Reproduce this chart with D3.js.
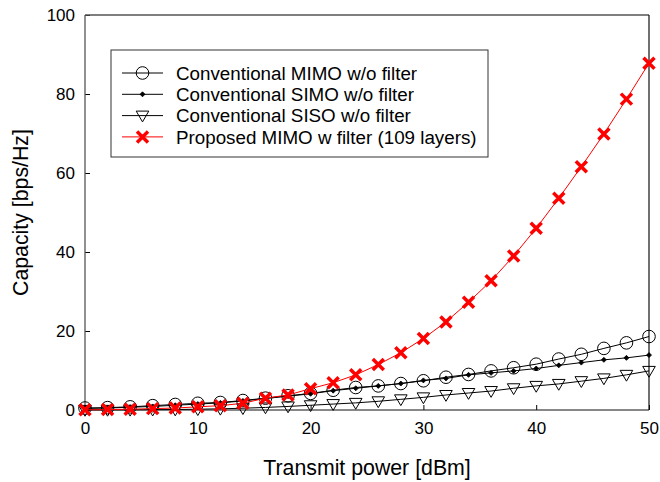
<!DOCTYPE html>
<html><head><meta charset="utf-8">
<script src="https://cdn.jsdelivr.net/npm/d3@7"></script>
<style>body{margin:0;background:#fff}svg{display:block}text{font-family:"Liberation Sans",Arial,sans-serif}</style>
</head><body><svg id="c" width="660" height="482"></svg>
<script>
const power = [0,2,4,6,8,10,12,14,16,18,20,22,24,26,28,30,32,34,36,38,40,42,44,46,48,50];
const mimo  = [0.5,0.6,0.8,1.1,1.4,1.7,1.9,2.4,3.0,3.6,4.2,5.0,5.7,6.1,6.7,7.4,8.3,9.0,9.9,10.7,11.6,12.9,14.1,15.6,17.0,18.6];
const simo  = [0.4,0.5,0.7,0.9,1.2,1.5,1.8,2.3,2.9,3.5,4.1,4.9,5.5,6.1,6.7,7.5,8.0,8.9,9.4,9.9,10.5,11.3,12.0,12.7,13.2,13.9];
const siso  = [0.02,0.03,0.05,0.08,0.12,0.2,0.3,0.45,0.65,0.9,1.2,1.5,1.8,2.2,2.7,3.2,3.8,4.3,4.8,5.5,6.1,6.6,7.3,8.0,8.9,9.9];
const prop  = [0.05,0.1,0.2,0.35,0.5,0.8,1.1,1.7,3.0,3.8,5.4,6.9,8.9,11.5,14.5,18.1,22.3,27.3,32.7,39.0,46.0,53.6,61.6,69.9,78.7,87.8];
const xTicks = [0,10,20,30,40,50];
const yTicks = [0,20,40,60,80,100];
const seriesNames = ["Conventional MIMO w/o filter","Conventional SIMO w/o filter","Conventional SISO w/o filter","Proposed MIMO w filter (109 layers)"];

const svg = d3.select("#c");
const L=85,R=649,T=15,B=410;
const x = d3.scaleLinear().domain([0,50]).range([L,R]);
const y = d3.scaleLinear().domain([0,100]).range([B,T]);

const gx = svg.append("g").attr("transform",`translate(0,${B})`)
  .call(d3.axisBottom(x).tickValues(xTicks).tickSizeInner(-5).tickSizeOuter(0).tickPadding(12));
const gy = svg.append("g").attr("transform",`translate(${L},0)`)
  .call(d3.axisLeft(y).tickValues(yTicks).tickSizeInner(-5).tickSizeOuter(0).tickPadding(10));
[gx,gy].forEach(g=>{g.select(".domain").remove();g.selectAll("text").attr("font-size",17).attr("fill","#000").style("font-family","Liberation Sans, Arial, sans-serif");g.selectAll("line").attr("stroke","#000");});
gx.selectAll("text").attr("dy","0.71em");
svg.append("line").attr("x1",L).attr("x2",L).attr("y1",T).attr("y2",B).attr("stroke","#555").attr("stroke-width",1.3);
svg.append("line").attr("x1",L).attr("x2",R).attr("y1",T).attr("y2",T).attr("stroke","#555").attr("stroke-width",1.3);
svg.append("line").attr("x1",R).attr("x2",R).attr("y1",T).attr("y2",B).attr("stroke","#111").attr("stroke-width",1.2);
svg.append("line").attr("x1",L).attr("x2",R).attr("y1",B).attr("y2",B).attr("stroke","#111").attr("stroke-width",1.2);

svg.append("text").attr("x",(L+R)/2).attr("y",475).attr("text-anchor","middle").attr("font-size",21.3).text("Transmit power [dBm]");
svg.append("text").attr("transform",`translate(28,${(T+B)/2}) rotate(-90)`).attr("text-anchor","middle").attr("font-size",21.3).text("Capacity [bps/Hz]");

function drawMarker(g,type,cx,cy){
  if(type==="circle") g.append("circle").attr("cx",cx).attr("cy",cy).attr("r",6.3).attr("fill","none").attr("stroke","#000").attr("stroke-width",1);
  else if(type==="dot") g.append("path").attr("d",`M${cx-2.5},${cy}L${cx},${cy-2.5}L${cx+2.5},${cy}L${cx},${cy+2.5}Z`).attr("fill","#000").attr("stroke","#000").attr("stroke-width",0.8);
  else if(type==="tri") g.append("path").attr("d",`M${cx-6.3},${cy-4.5}L${cx+6.3},${cy-4.5}L${cx},${cy+6.3}Z`).attr("fill","none").attr("stroke","#000").attr("stroke-width",1);
  else if(type==="x") g.append("path").attr("d",`M${cx-5.5},${cy-5.5}L${cx+5.5},${cy+5.5}M${cx-5.5},${cy+5.5}L${cx+5.5},${cy-5.5}`).attr("stroke","#f00").attr("stroke-width",3.5).attr("fill","none");
}

const series = [
  {name:seriesNames[0],vals:mimo,color:"#000",m:"circle"},
  {name:seriesNames[1],vals:simo,color:"#000",m:"dot"},
  {name:seriesNames[2],vals:siso,color:"#000",m:"tri"},
  {name:seriesNames[3],vals:prop,color:"#f00",m:"x"}
];
const line = d3.line().x((d,i)=>x(power[i])).y(d=>y(d));
series.forEach(s=>{
  const g = svg.append("g");
  g.append("path").datum(s.vals).attr("d",line).attr("fill","none").attr("stroke",s.color).attr("stroke-width",1);
  s.vals.forEach((v,i)=>drawMarker(g,s.m,x(power[i]),y(v)));
});

const lg = svg.append("g");
lg.append("rect").attr("x",111).attr("y",50).attr("width",377).attr("height",107).attr("fill","#fff").attr("stroke","#333").attr("stroke-width",1);
series.forEach((s,i)=>{
  const cy = 73 + i*21.3;
  lg.append("line").attr("x1",122).attr("x2",163).attr("y1",cy).attr("y2",cy).attr("stroke",s.color).attr("stroke-width",1);
  drawMarker(lg,s.m,142.5,cy);
  lg.append("text").attr("x",176).attr("y",cy).attr("dy","0.36em").attr("font-size",18.8).text(s.name);
});
</script></body></html>
